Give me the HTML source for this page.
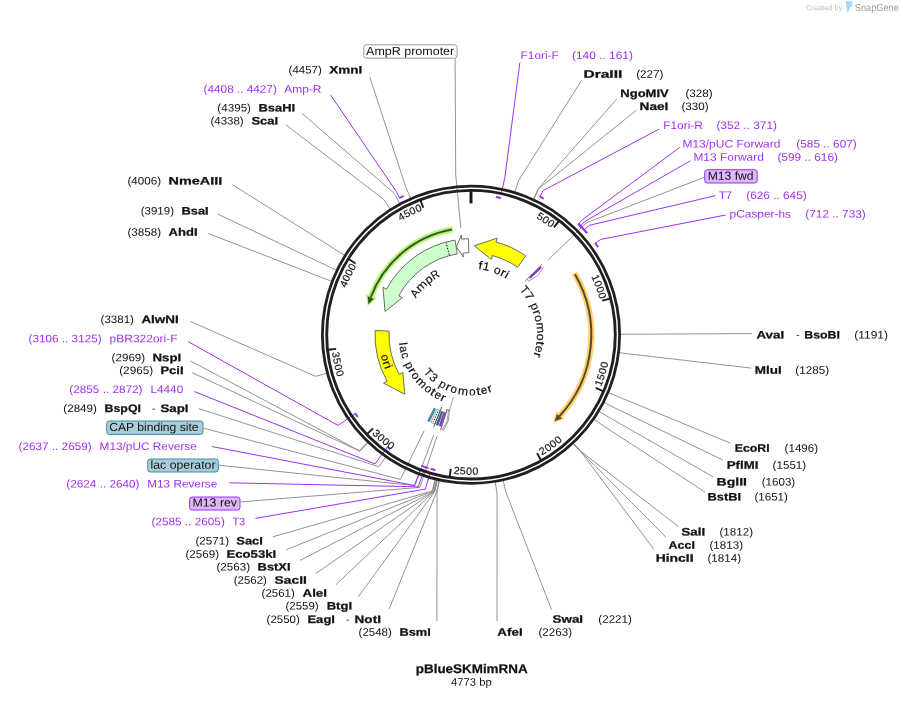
<!DOCTYPE html>
<html><head><meta charset="utf-8"><title>pBlueSKMimRNA</title>
<style>html,body{margin:0;padding:0;background:#fff}svg{display:block;will-change:transform}text{font-family:"Liberation Sans",sans-serif}</style>
</head><body>
<svg width="903" height="721" viewBox="0 0 903 721" font-family="'Liberation Sans', sans-serif">
<rect width="903" height="721" fill="#fff"/>
<g fill="none" stroke="#808080" stroke-width="0.85">
<path d="M581.4,80.5 L518.4,180.83 L514.86,192.3"/>
<path d="M616.9,98.8 L538.38,188.48 L533.35,199.37"/>
<path d="M636.2,110.4 L538.76,188.65 L533.71,199.54"/>
<path d="M751.8,333.6 L632,334.22 L620,334.26"/>
<path d="M751.2,368.1 L630.83,354.1 L618.91,352.65"/>
<path d="M730.4,443.1 L619.38,397.18 L608.32,392.52"/>
<path d="M722.8,460 L614.47,407.75 L603.78,402.31"/>
<path d="M713.5,477 L609.14,417.39 L598.84,411.23"/>
<path d="M704.9,492 L603.64,425.95 L593.76,419.15"/>
<path d="M678.3,526.5 L581.48,451.81 L573.25,443.08"/>
<path d="M666.3,537.5 L581.33,451.96 L573.1,443.22"/>
<path d="M654,549.4 L581.17,452.1 L572.96,443.35"/>
<path d="M551.5,609.5 L505.8,491.89 L503.21,480.18"/>
<path d="M497,621.2 L497.06,493.58 L495.12,481.74"/>
<path d="M436.9,621.2 L437.03,492.08 L439.56,480.35"/>
<path d="M389.2,608.9 L436.61,491.99 L439.18,480.26"/>
<path d="M358.3,596.9 L434.75,491.57 L437.46,479.87"/>
<path d="M336,584.6 L434.34,491.47 L437.07,479.79"/>
<path d="M315.4,573.7 L434.13,491.42 L436.88,479.74"/>
<path d="M300.1,560.4 L433.93,491.37 L436.69,479.7"/>
<path d="M286.2,549.7 L432.69,491.08 L435.55,479.42"/>
<path d="M272.9,536.8 L432.28,490.97 L435.17,479.33"/>
<path d="M198.8,408.6 L378.92,466.77 L385.78,456.93"/>
<path d="M192.1,372.6 L359.9,451.23 L368.18,442.54"/>
<path d="M190.5,360.9 L359.29,450.64 L367.62,442"/>
<path d="M190.5,321.5 L315.48,376.34 L327.07,373.24"/>
<path d="M208.5,233.6 L320.68,277.04 L331.88,281.34"/>
<path d="M217.5,214 L325.79,265.17 L336.61,270.35"/>
<path d="M232.4,184.7 L334.69,249.03 L344.85,255.41"/>
<path d="M286.1,125 L383.76,199.38 L390.26,209.47"/>
<path d="M302.2,113.5 L394.15,193.22 L399.88,203.77"/>
<path d="M369.8,77.2 L405.94,187.43 L410.79,198.41"/>
<path d="M704.2,177.4 L586.62,222.66 L547.84,260.24"/>
<path d="M240.5,501.9 L419.91,487.38 L437.05,436.17"/>
<path d="M218.8,465.2 L414.88,485.6 L433.7,434.99"/>
<path d="M203.5,428.2 L400.42,479.41 L424.09,430.87"/>
<path d="M455.1,58.3 L455.71,174.43 L460.84,228.18"/>
</g>
<g fill="none" stroke="#a030f0" stroke-width="1">
<path d="M519.9,62.6 L504.87,177.3 L501.29,193.92"/>
<path d="M659.3,129 L542.96,190.68 L539.97,196.67"/>
<path d="M679.7,147.5 L583.09,219.13 L578.42,223.94"/>
<path d="M690.4,160.8 L585.2,221.21 L580.45,225.94"/>
<path d="M715.3,195.7 L589.16,225.34 L584.24,229.89"/>
<path d="M725.6,215 L600.76,239.39 L595.36,243.36"/>
<path d="M255.4,518.4 L425.33,489.09 L430.15,472.78"/>
<path d="M229.4,482.8 L418.26,486.82 L423.83,470.76"/>
<path d="M211.8,446.5 L414.48,485.45 L420.45,469.53"/>
<path d="M194.5,391.6 L374.97,463.92 L387.49,447.07"/>
<path d="M188.1,341.6 L338,425.43 L355.35,413.59"/>
<path d="M330.5,94.9 L396.58,191.93 L399.68,197.87"/>
</g>
<circle cx="471" cy="334.7" r="148.6" fill="none" stroke="#202020" stroke-width="2.8"/>
<circle cx="471" cy="334.7" r="144.3" fill="none" stroke="#202020" stroke-width="2.9"/>
<g fill="none" stroke="#a030f0" stroke-width="1.9">
<path d="M496.07,196.96A140,140 0 0 1 501.04,197.96"/>
<path d="M539.43,196.4A154.3,154.3 0 0 1 543.93,198.72"/>
<path d="M577.99,223.52A154.3,154.3 0 0 1 582,227.52"/>
<path d="M580.02,225.51A154.3,154.3 0 0 1 583.27,228.85"/>
<path d="M583.83,229.45A154.3,154.3 0 0 1 587.22,233.21"/>
<path d="M595,242.87A154.3,154.3 0 0 1 598.18,247.32"/>
<path d="M435.41,470.1A140,140 0 0 1 430.71,468.78"/>
<path d="M428.51,468.1A140,140 0 0 1 424.58,466.78"/>
<path d="M426.23,467.35A140,140 0 0 1 421.29,465.58"/>
<path d="M390.52,449.25A140,140 0 0 1 387.01,446.71"/>
<path d="M357.71,416.95A140,140 0 0 1 355.01,413.1"/>
<path d="M399.15,198.15A154.3,154.3 0 0 1 403.66,195.87"/>
<path d="M578.42,223.94A154.3,154.3 0 0 1 586.83,232.76"/>
</g>
<path d="M558.78,221.18 L553.95,227.43" stroke="#1a1a1a" stroke-width="1.9"/>
<path d="M609.88,298.59 L602.24,300.57" stroke="#1a1a1a" stroke-width="1.9"/>
<path d="M602.96,391.08 L595.69,387.98" stroke="#1a1a1a" stroke-width="1.9"/>
<path d="M540.9,460.02 L537.05,453.12" stroke="#1a1a1a" stroke-width="1.9"/>
<path d="M449.64,476.6 L450.82,468.79" stroke="#1a1a1a" stroke-width="1.9"/>
<path d="M367.3,433.89 L373.01,428.43" stroke="#1a1a1a" stroke-width="1.9"/>
<path d="M328.29,349.74 L336.15,348.91" stroke="#1a1a1a" stroke-width="1.9"/>
<path d="M348.9,259.3 L355.63,263.45" stroke="#1a1a1a" stroke-width="1.9"/>
<path d="M420.53,200.37 L423.31,207.76" stroke="#1a1a1a" stroke-width="1.9"/>
<path d="M471,191.2 L471,203.4" stroke="#1a1a1a" stroke-width="3"/>
<path d="M452.79,229.26A107,107 0 0 0 370.68,297.49" fill="none" stroke="#b9f57f" stroke-width="6.2" stroke-linecap="butt"/>
<path d="M367.85,306.25 L376.62,298.18 L365.8,294 Z" fill="#b9f57f"/>
<path d="M451.8,229.44A107,107 0 0 0 370.68,297.49" fill="none" stroke="#3a5a24" stroke-width="2"/>
<path d="M368.46,304.13 L373.77,298.64 L367.58,296.35 Z" fill="#3a5a24"/>
<path d="M574.44,273.28A120.3,120.3 0 0 1 559.46,416.23" fill="none" stroke="#ffd070" stroke-width="6.2" stroke-linecap="butt"/>
<path d="M552.97,422.75 L556.15,411.24 L564.78,419 Z" fill="#ffd070"/>
<path d="M574.95,274.14A120.3,120.3 0 0 1 559.46,416.23" fill="none" stroke="#5a4826" stroke-width="2"/>
<path d="M554.57,421.24 L557.03,413.99 L561.89,418.47 Z" fill="#5a4826"/>
<path d="M517.68,267.28A82,82 0 0 0 492.36,255.53L491.32,259.39L474.26,245.76L497.05,238.15L496.01,242.01A96,96 0 0 1 525.65,255.77Z" fill="#ffff00" stroke="#5c5c5c" stroke-width="0.9" stroke-linejoin="miter"/>
<path d="M468.85,252.73A82,82 0 0 0 463,253.09L463.39,257.07L456.46,246.9L461.24,235.18L461.63,239.16A96,96 0 0 1 468.49,238.73Z" fill="#ffffff" stroke="#5c5c5c" stroke-width="0.9" stroke-linejoin="miter"/>
<path d="M457.32,253.85A82,82 0 0 0 398.8,295.82L402.32,297.72L385.07,311.52L382.95,287.29L386.47,289.19A96,96 0 0 1 454.99,240.04Z" fill="#ccffcc" stroke="#5c5c5c" stroke-width="0.9" stroke-linejoin="miter"/>
<path d="M449.37,255.09 L445.96,242.54" stroke="#111" stroke-width="1" stroke-dasharray="1.6,1.4" fill="none"/>
<path d="M389.08,331.12A82,82 0 0 0 399.28,374.45L402.78,372.52L404.86,394.25L383.54,383.18L387.04,381.24A96,96 0 0 1 375.09,330.51Z" fill="#ffff00" stroke="#5c5c5c" stroke-width="0.9" stroke-linejoin="miter"/>
<path d="M527.59,281.75 L537.66,275.73 L544.02,266.37" fill="#ffffff" stroke="#777" stroke-width="0.7" stroke-linejoin="round"/>
<path d="M525.42,280.94 L542.14,264.42" stroke="#2a2a2a" stroke-width="0.8" fill="none"/>
<path d="M529.54,277.28L540.24,266.77L541.42,267.99L530.53,278.31Z" fill="#9a2be8" stroke="#4b1a8a" stroke-width="0.5"/>
<path d="M435.76,408.74L429.53,421.84L427.57,420.87L434.09,407.92Z" fill="#2f95ad" stroke="#2a6f80" stroke-width="0.5"/>
<path d="M440.15,410.68L434.69,424.11L430.98,422.51L437,409.32Z" fill="#ffffff" stroke="#666" stroke-width="0.6"/>
<path d="M437.77,411.85 L433.42,421.95" stroke="#222" stroke-width="1.4" stroke-dasharray="1,1.6" fill="none"/>
<path d="M441.78,407.02 L433.54,427.42" stroke="#333" stroke-width="0.8" fill="none"/>
<path d="M442.99,411.77L438.03,425.39L436.06,424.65L441.31,411.14Z" fill="#2a7286" stroke="#1f4f5c" stroke-width="0.5"/>
<path d="M445.39,412.6L440.86,426.37L439.11,425.78L443.9,412.09Z" fill="#9a2be8" stroke="#5a1aa0" stroke-width="0.5"/>
<path d="M447.29,409.01 L440.6,429.97" stroke="#333" stroke-width="0.8" fill="none"/>
<path d="M448.47,408.85 L447.52,420.55 L441.93,430.38" fill="#ffffff" stroke="#777" stroke-width="0.7" stroke-linejoin="round"/>
<path d="M449.38,409.12 L448.42,420.79 L443.1,430.73" fill="none" stroke="#777" stroke-width="0.7" stroke-linejoin="round"/>
<path d="M453.44,396.76 L449.22,411.68" stroke="#808080" stroke-width="0.7" fill="none"/>
<text transform="translate(538.57,219.56) rotate(30.41) scale(1.04,1)" text-anchor="middle" font-size="10.3" fill="#111" stroke="#111" stroke-width="0.15">5</text>
<text transform="translate(543.81,222.81) rotate(33.05) scale(1.04,1)" text-anchor="middle" font-size="10.3" fill="#111" stroke="#111" stroke-width="0.15">0</text>
<text transform="translate(548.91,226.29) rotate(35.7) scale(1.04,1)" text-anchor="middle" font-size="10.3" fill="#111" stroke="#111" stroke-width="0.15">0</text>
<text transform="translate(592.45,279.28) rotate(65.47) scale(1.04,1)" text-anchor="middle" font-size="10.3" fill="#111" stroke="#111" stroke-width="0.15">1</text>
<text transform="translate(594.88,284.95) rotate(68.12) scale(1.04,1)" text-anchor="middle" font-size="10.3" fill="#111" stroke="#111" stroke-width="0.15">0</text>
<text transform="translate(597.05,290.72) rotate(70.77) scale(1.04,1)" text-anchor="middle" font-size="10.3" fill="#111" stroke="#111" stroke-width="0.15">0</text>
<text transform="translate(598.95,296.59) rotate(73.41) scale(1.04,1)" text-anchor="middle" font-size="10.3" fill="#111" stroke="#111" stroke-width="0.15">0</text>
<text transform="translate(602.05,384.19) rotate(290.69) scale(1.04,1)" text-anchor="middle" font-size="10.3" fill="#111" stroke="#111" stroke-width="0.15">1</text>
<text transform="translate(604.21,378.06) rotate(288.03) scale(1.04,1)" text-anchor="middle" font-size="10.3" fill="#111" stroke="#111" stroke-width="0.15">5</text>
<text transform="translate(606.07,371.84) rotate(285.37) scale(1.04,1)" text-anchor="middle" font-size="10.3" fill="#111" stroke="#111" stroke-width="0.15">0</text>
<text transform="translate(607.65,365.53) rotate(282.71) scale(1.04,1)" text-anchor="middle" font-size="10.3" fill="#111" stroke="#111" stroke-width="0.15">0</text>
<text transform="translate(544.4,454.01) rotate(328.4) scale(1.04,1)" text-anchor="middle" font-size="10.3" fill="#111" stroke="#111" stroke-width="0.15">2</text>
<text transform="translate(549.86,450.48) rotate(325.74) scale(1.04,1)" text-anchor="middle" font-size="10.3" fill="#111" stroke="#111" stroke-width="0.15">0</text>
<text transform="translate(555.14,446.7) rotate(323.08) scale(1.04,1)" text-anchor="middle" font-size="10.3" fill="#111" stroke="#111" stroke-width="0.15">0</text>
<text transform="translate(560.24,442.68) rotate(320.43) scale(1.04,1)" text-anchor="middle" font-size="10.3" fill="#111" stroke="#111" stroke-width="0.15">0</text>
<text transform="translate(456.09,473.99) rotate(366.11) scale(1.04,1)" text-anchor="middle" font-size="10.3" fill="#111" stroke="#111" stroke-width="0.15">2</text>
<text transform="translate(462.56,474.53) rotate(363.45) scale(1.04,1)" text-anchor="middle" font-size="10.3" fill="#111" stroke="#111" stroke-width="0.15">5</text>
<text transform="translate(469.05,474.77) rotate(360.8) scale(1.04,1)" text-anchor="middle" font-size="10.3" fill="#111" stroke="#111" stroke-width="0.15">0</text>
<text transform="translate(475.55,474.71) rotate(358.14) scale(1.04,1)" text-anchor="middle" font-size="10.3" fill="#111" stroke="#111" stroke-width="0.15">0</text>
<text transform="translate(374,435.77) rotate(403.82) scale(1.04,1)" text-anchor="middle" font-size="10.3" fill="#111" stroke="#111" stroke-width="0.15">3</text>
<text transform="translate(378.79,440.16) rotate(401.17) scale(1.04,1)" text-anchor="middle" font-size="10.3" fill="#111" stroke="#111" stroke-width="0.15">0</text>
<text transform="translate(383.78,444.32) rotate(398.51) scale(1.04,1)" text-anchor="middle" font-size="10.3" fill="#111" stroke="#111" stroke-width="0.15">0</text>
<text transform="translate(388.95,448.25) rotate(395.85) scale(1.04,1)" text-anchor="middle" font-size="10.3" fill="#111" stroke="#111" stroke-width="0.15">0</text>
<text transform="translate(332.44,355.32) rotate(441.54) scale(1.04,1)" text-anchor="middle" font-size="10.3" fill="#111" stroke="#111" stroke-width="0.15">3</text>
<text transform="translate(333.54,361.72) rotate(438.88) scale(1.04,1)" text-anchor="middle" font-size="10.3" fill="#111" stroke="#111" stroke-width="0.15">5</text>
<text transform="translate(334.95,368.07) rotate(436.22) scale(1.04,1)" text-anchor="middle" font-size="10.3" fill="#111" stroke="#111" stroke-width="0.15">0</text>
<text transform="translate(336.64,374.34) rotate(433.56) scale(1.04,1)" text-anchor="middle" font-size="10.3" fill="#111" stroke="#111" stroke-width="0.15">0</text>
<text transform="translate(347,285.24) rotate(291.74) scale(1.04,1)" text-anchor="middle" font-size="10.3" fill="#111" stroke="#111" stroke-width="0.15">4</text>
<text transform="translate(349.42,279.57) rotate(294.39) scale(1.04,1)" text-anchor="middle" font-size="10.3" fill="#111" stroke="#111" stroke-width="0.15">0</text>
<text transform="translate(352.09,274.01) rotate(297.04) scale(1.04,1)" text-anchor="middle" font-size="10.3" fill="#111" stroke="#111" stroke-width="0.15">0</text>
<text transform="translate(355.02,268.58) rotate(299.69) scale(1.04,1)" text-anchor="middle" font-size="10.3" fill="#111" stroke="#111" stroke-width="0.15">0</text>
<text transform="translate(403.15,219.73) rotate(329.46) scale(1.04,1)" text-anchor="middle" font-size="10.3" fill="#111" stroke="#111" stroke-width="0.15">4</text>
<text transform="translate(408.54,216.71) rotate(332.1) scale(1.04,1)" text-anchor="middle" font-size="10.3" fill="#111" stroke="#111" stroke-width="0.15">5</text>
<text transform="translate(414.06,213.95) rotate(334.75) scale(1.04,1)" text-anchor="middle" font-size="10.3" fill="#111" stroke="#111" stroke-width="0.15">0</text>
<text transform="translate(419.69,211.45) rotate(337.4) scale(1.04,1)" text-anchor="middle" font-size="10.3" fill="#111" stroke="#111" stroke-width="0.15">0</text>
<text transform="translate(479.94,269.31) rotate(7.79) scale(1.21,1)" text-anchor="middle" font-size="11.6" fill="#111" stroke="#111" stroke-width="0.15">f</text>
<text transform="translate(485.51,270.31) rotate(12.7) scale(1.09,1)" text-anchor="middle" font-size="11.6" fill="#111" stroke="#111" stroke-width="0.15">1</text>
<text transform="translate(496.12,273.67) rotate(22.38) scale(1.04,1)" text-anchor="middle" font-size="11.6" fill="#111" stroke="#111" stroke-width="0.15">o</text>
<text transform="translate(501.49,276.17) rotate(27.51) scale(1.23,1)" text-anchor="middle" font-size="11.6" fill="#111" stroke="#111" stroke-width="0.15">r</text>
<text transform="translate(504.99,278.13) rotate(31) scale(1.18,1)" text-anchor="middle" font-size="11.6" fill="#111" stroke="#111" stroke-width="0.15">i</text>
<text transform="translate(417.89,295.52) rotate(-53.59) scale(0.98,1)" text-anchor="middle" font-size="11.6" fill="#111" stroke="#111" stroke-width="0.15">A</text>
<text transform="translate(424.05,288.32) rotate(-45.35) scale(1.12,1)" text-anchor="middle" font-size="11.6" fill="#111" stroke="#111" stroke-width="0.15">m</text>
<text transform="translate(430.9,282.28) rotate(-37.42) scale(1.07,1)" text-anchor="middle" font-size="11.6" fill="#111" stroke="#111" stroke-width="0.15">p</text>
<text transform="translate(437.14,278.05) rotate(-30.87) scale(0.92,1)" text-anchor="middle" font-size="11.6" fill="#111" stroke="#111" stroke-width="0.15">R</text>
<text transform="translate(521.6,292.33) rotate(50.06) scale(0.97,1)" text-anchor="middle" font-size="11.6" fill="#111" stroke="#111" stroke-width="0.15">T</text>
<text transform="translate(525.9,298.06) rotate(56.28) scale(1.09,1)" text-anchor="middle" font-size="11.6" fill="#111" stroke="#111" stroke-width="0.15">7</text>
<text transform="translate(531.31,307.9) rotate(66.04) scale(1.07,1)" text-anchor="middle" font-size="11.6" fill="#111" stroke="#111" stroke-width="0.15">p</text>
<text transform="translate(533.5,313.49) rotate(71.26) scale(1.23,1)" text-anchor="middle" font-size="11.6" fill="#111" stroke="#111" stroke-width="0.15">r</text>
<text transform="translate(535.15,319.18) rotate(76.4) scale(1.04,1)" text-anchor="middle" font-size="11.6" fill="#111" stroke="#111" stroke-width="0.15">o</text>
<text transform="translate(536.67,328.09) rotate(84.25) scale(1.12,1)" text-anchor="middle" font-size="11.6" fill="#111" stroke="#111" stroke-width="0.15">m</text>
<text transform="translate(536.96,337.12) rotate(92.1) scale(1.04,1)" text-anchor="middle" font-size="11.6" fill="#111" stroke="#111" stroke-width="0.15">o</text>
<text transform="translate(536.5,342.83) rotate(97.08) scale(1.36,1)" text-anchor="middle" font-size="11.6" fill="#111" stroke="#111" stroke-width="0.15">t</text>
<text transform="translate(535.56,348.42) rotate(102) scale(1.03,1)" text-anchor="middle" font-size="11.6" fill="#111" stroke="#111" stroke-width="0.15">e</text>
<text transform="translate(534.09,354.09) rotate(107.08) scale(1.23,1)" text-anchor="middle" font-size="11.6" fill="#111" stroke="#111" stroke-width="0.15">r</text>
<text transform="translate(399.18,344.44) rotate(442.27) scale(1.12,1)" text-anchor="middle" font-size="11.6" fill="#111" stroke="#111" stroke-width="0.15">l</text>
<text transform="translate(400.09,349.72) rotate(438.04) scale(0.98,1)" text-anchor="middle" font-size="11.6" fill="#111" stroke="#111" stroke-width="0.15">a</text>
<text transform="translate(401.83,356.37) rotate(432.61) scale(0.95,1)" text-anchor="middle" font-size="11.6" fill="#111" stroke="#111" stroke-width="0.15">c</text>
<text transform="translate(406.05,366.86) rotate(423.66) scale(1.02,1)" text-anchor="middle" font-size="11.6" fill="#111" stroke="#111" stroke-width="0.15">p</text>
<text transform="translate(409.15,372.49) rotate(418.58) scale(1.17,1)" text-anchor="middle" font-size="11.6" fill="#111" stroke="#111" stroke-width="0.15">r</text>
<text transform="translate(412.68,377.74) rotate(413.57) scale(0.99,1)" text-anchor="middle" font-size="11.6" fill="#111" stroke="#111" stroke-width="0.15">o</text>
<text transform="translate(418.93,385.12) rotate(405.92) scale(1.06,1)" text-anchor="middle" font-size="11.6" fill="#111" stroke="#111" stroke-width="0.15">m</text>
<text transform="translate(426.11,391.6) rotate(398.27) scale(0.99,1)" text-anchor="middle" font-size="11.6" fill="#111" stroke="#111" stroke-width="0.15">o</text>
<text transform="translate(431.07,395.19) rotate(393.43) scale(1.29,1)" text-anchor="middle" font-size="11.6" fill="#111" stroke="#111" stroke-width="0.15">t</text>
<text transform="translate(436.27,398.32) rotate(388.63) scale(0.98,1)" text-anchor="middle" font-size="11.6" fill="#111" stroke="#111" stroke-width="0.15">e</text>
<text transform="translate(441.89,401.08) rotate(383.68) scale(1.17,1)" text-anchor="middle" font-size="11.6" fill="#111" stroke="#111" stroke-width="0.15">r</text>
<text transform="translate(425.37,374.85) rotate(408.66) scale(0.92,1)" text-anchor="middle" font-size="11.6" fill="#111" stroke="#111" stroke-width="0.15">T</text>
<text transform="translate(430.92,380.4) rotate(401.25) scale(1.04,1)" text-anchor="middle" font-size="11.6" fill="#111" stroke="#111" stroke-width="0.15">3</text>
<text transform="translate(440.94,387.53) rotate(389.64) scale(1.02,1)" text-anchor="middle" font-size="11.6" fill="#111" stroke="#111" stroke-width="0.15">p</text>
<text transform="translate(446.83,390.47) rotate(383.43) scale(1.17,1)" text-anchor="middle" font-size="11.6" fill="#111" stroke="#111" stroke-width="0.15">r</text>
<text transform="translate(452.91,392.73) rotate(377.32) scale(0.99,1)" text-anchor="middle" font-size="11.6" fill="#111" stroke="#111" stroke-width="0.15">o</text>
<text transform="translate(462.57,394.89) rotate(367.97) scale(1.06,1)" text-anchor="middle" font-size="11.6" fill="#111" stroke="#111" stroke-width="0.15">m</text>
<text transform="translate(472.45,395.46) rotate(358.63) scale(0.99,1)" text-anchor="middle" font-size="11.6" fill="#111" stroke="#111" stroke-width="0.15">o</text>
<text transform="translate(478.71,394.99) rotate(352.71) scale(1.29,1)" text-anchor="middle" font-size="11.6" fill="#111" stroke="#111" stroke-width="0.15">t</text>
<text transform="translate(484.82,393.89) rotate(346.86) scale(0.98,1)" text-anchor="middle" font-size="11.6" fill="#111" stroke="#111" stroke-width="0.15">e</text>
<text transform="translate(490.98,392.1) rotate(340.81) scale(1.17,1)" text-anchor="middle" font-size="11.6" fill="#111" stroke="#111" stroke-width="0.15">r</text>
<text transform="translate(381.54,358.53) rotate(435.09) scale(0.99,1)" text-anchor="middle" font-size="11.6" fill="#111" stroke="#111" stroke-width="0.15">o</text>
<text transform="translate(383.32,364.43) rotate(431.27) scale(1.17,1)" text-anchor="middle" font-size="11.6" fill="#111" stroke="#111" stroke-width="0.15">r</text>
<text transform="translate(384.75,368.35) rotate(428.68) scale(1.12,1)" text-anchor="middle" font-size="11.6" fill="#111" stroke="#111" stroke-width="0.15">i</text>
<text transform="translate(520.6,58.9) rotate(0.03)" font-size="10.9" fill="#a030f0" textLength="38.2" lengthAdjust="spacingAndGlyphs">F1ori-F</text>
<text transform="translate(572,58.9) rotate(0.03)" font-size="10.9" fill="#a030f0" textLength="60.9" lengthAdjust="spacingAndGlyphs">(140 .. 161)</text>
<text transform="translate(583.4,77.8) rotate(0.03)" font-size="10.9" font-weight="bold" stroke="#111" stroke-width="0.25" fill="#111" textLength="38.9" lengthAdjust="spacingAndGlyphs">DraIII</text>
<text transform="translate(636.2,77.8) rotate(0.03)" font-size="10.9" fill="#111" textLength="27.3" lengthAdjust="spacingAndGlyphs">(227)</text>
<text transform="translate(620.3,97.1) rotate(0.03)" font-size="10.9" font-weight="bold" stroke="#111" stroke-width="0.25" fill="#111" textLength="48.5" lengthAdjust="spacingAndGlyphs">NgoMIV</text>
<text transform="translate(685.4,97.1) rotate(0.03)" font-size="10.9" fill="#111" textLength="27.2" lengthAdjust="spacingAndGlyphs">(328)</text>
<text transform="translate(639.5,110.1) rotate(0.03)" font-size="10.9" font-weight="bold" stroke="#111" stroke-width="0.25" fill="#111" textLength="28.9" lengthAdjust="spacingAndGlyphs">NaeI</text>
<text transform="translate(681.4,110.1) rotate(0.03)" font-size="10.9" fill="#111" textLength="27.2" lengthAdjust="spacingAndGlyphs">(330)</text>
<text transform="translate(663.3,129) rotate(0.03)" font-size="10.9" fill="#a030f0" textLength="39.5" lengthAdjust="spacingAndGlyphs">F1ori-R</text>
<text transform="translate(716.4,129) rotate(0.03)" font-size="10.9" fill="#a030f0" textLength="60.5" lengthAdjust="spacingAndGlyphs">(352 .. 371)</text>
<text transform="translate(682.4,147.5) rotate(0.03)" font-size="10.9" fill="#a030f0" textLength="98" lengthAdjust="spacingAndGlyphs">M13/pUC Forward</text>
<text transform="translate(796.3,147.5) rotate(0.03)" font-size="10.9" fill="#a030f0" textLength="60.5" lengthAdjust="spacingAndGlyphs">(585 .. 607)</text>
<text transform="translate(693.4,160.8) rotate(0.03)" font-size="10.9" fill="#a030f0" textLength="70.4" lengthAdjust="spacingAndGlyphs">M13 Forward</text>
<text transform="translate(777.4,160.8) rotate(0.03)" font-size="10.9" fill="#a030f0" textLength="60.5" lengthAdjust="spacingAndGlyphs">(599 .. 616)</text>
<text transform="translate(718.9,199) rotate(0.03)" font-size="10.9" fill="#a030f0" textLength="13.3" lengthAdjust="spacingAndGlyphs">T7</text>
<text transform="translate(746.2,199) rotate(0.03)" font-size="10.9" fill="#a030f0" textLength="60.5" lengthAdjust="spacingAndGlyphs">(626 .. 645)</text>
<text transform="translate(729.6,217.6) rotate(0.03)" font-size="10.9" fill="#a030f0" textLength="61.4" lengthAdjust="spacingAndGlyphs">pCasper-hs</text>
<text transform="translate(805.3,217.6) rotate(0.03)" font-size="10.9" fill="#a030f0" textLength="60.5" lengthAdjust="spacingAndGlyphs">(712 .. 733)</text>
<text transform="translate(756.5,338.6) rotate(0.03)" font-size="10.9" font-weight="bold" stroke="#111" stroke-width="0.25" fill="#111" textLength="27.6" lengthAdjust="spacingAndGlyphs">AvaI</text>
<text transform="translate(854.2,338.6) rotate(0.03)" font-size="10.9" fill="#111" textLength="33.8" lengthAdjust="spacingAndGlyphs">(1191)</text>
<text transform="translate(796,338.6) rotate(0.03)" font-size="10.9" fill="#111" textLength="3.7" lengthAdjust="spacingAndGlyphs">-</text>
<text transform="translate(804.3,338.6) rotate(0.03)" font-size="10.9" font-weight="bold" stroke="#111" stroke-width="0.25" fill="#111" textLength="35.6" lengthAdjust="spacingAndGlyphs">BsoBI</text>
<text transform="translate(754.8,373.8) rotate(0.03)" font-size="10.9" font-weight="bold" stroke="#111" stroke-width="0.25" fill="#111" textLength="26.9" lengthAdjust="spacingAndGlyphs">MluI</text>
<text transform="translate(795.3,373.8) rotate(0.03)" font-size="10.9" fill="#111" textLength="33.9" lengthAdjust="spacingAndGlyphs">(1285)</text>
<text transform="translate(734.8,451.8) rotate(0.03)" font-size="10.9" font-weight="bold" stroke="#111" stroke-width="0.25" fill="#111" textLength="34.8" lengthAdjust="spacingAndGlyphs">EcoRI</text>
<text transform="translate(784.6,451.8) rotate(0.03)" font-size="10.9" fill="#111" textLength="33.5" lengthAdjust="spacingAndGlyphs">(1496)</text>
<text transform="translate(726.8,468.7) rotate(0.03)" font-size="10.9" font-weight="bold" stroke="#111" stroke-width="0.25" fill="#111" textLength="31.5" lengthAdjust="spacingAndGlyphs">PflMI</text>
<text transform="translate(772.6,468.7) rotate(0.03)" font-size="10.9" fill="#111" textLength="33.6" lengthAdjust="spacingAndGlyphs">(1551)</text>
<text transform="translate(716.5,485.6) rotate(0.03)" font-size="10.9" font-weight="bold" stroke="#111" stroke-width="0.25" fill="#111" textLength="30.5" lengthAdjust="spacingAndGlyphs">BglII</text>
<text transform="translate(761.7,485.6) rotate(0.03)" font-size="10.9" fill="#111" textLength="33.5" lengthAdjust="spacingAndGlyphs">(1603)</text>
<text transform="translate(707.5,500.6) rotate(0.03)" font-size="10.9" font-weight="bold" stroke="#111" stroke-width="0.25" fill="#111" textLength="33.5" lengthAdjust="spacingAndGlyphs">BstBI</text>
<text transform="translate(754.4,500.6) rotate(0.03)" font-size="10.9" fill="#111" textLength="33.5" lengthAdjust="spacingAndGlyphs">(1651)</text>
<text transform="translate(681.3,535.5) rotate(0.03)" font-size="10.9" font-weight="bold" stroke="#111" stroke-width="0.25" fill="#111" textLength="23.9" lengthAdjust="spacingAndGlyphs">SalI</text>
<text transform="translate(719.5,535.5) rotate(0.03)" font-size="10.9" fill="#111" textLength="33.5" lengthAdjust="spacingAndGlyphs">(1812)</text>
<text transform="translate(668.6,548.8) rotate(0.03)" font-size="10.9" font-weight="bold" stroke="#111" stroke-width="0.25" fill="#111" textLength="26.3" lengthAdjust="spacingAndGlyphs">AccI</text>
<text transform="translate(709.5,548.8) rotate(0.03)" font-size="10.9" fill="#111" textLength="33.5" lengthAdjust="spacingAndGlyphs">(1813)</text>
<text transform="translate(655.7,561.7) rotate(0.03)" font-size="10.9" font-weight="bold" stroke="#111" stroke-width="0.25" fill="#111" textLength="37.9" lengthAdjust="spacingAndGlyphs">HincII</text>
<text transform="translate(707.5,561.7) rotate(0.03)" font-size="10.9" fill="#111" textLength="33.5" lengthAdjust="spacingAndGlyphs">(1814)</text>
<text transform="translate(552.5,622.8) rotate(0.03)" font-size="10.9" font-weight="bold" stroke="#111" stroke-width="0.25" fill="#111" textLength="30.6" lengthAdjust="spacingAndGlyphs">SwaI</text>
<text transform="translate(598.3,622.8) rotate(0.03)" font-size="10.9" fill="#111" textLength="33.6" lengthAdjust="spacingAndGlyphs">(2221)</text>
<text transform="translate(497.3,635.8) rotate(0.03)" font-size="10.9" font-weight="bold" stroke="#111" stroke-width="0.25" fill="#111" textLength="25.3" lengthAdjust="spacingAndGlyphs">AfeI</text>
<text transform="translate(538.5,635.8) rotate(0.03)" font-size="10.9" fill="#111" textLength="33.6" lengthAdjust="spacingAndGlyphs">(2263)</text>
<text transform="translate(399.5,635.7) rotate(0.03)" font-size="10.9" font-weight="bold" stroke="#111" stroke-width="0.25" fill="#111" textLength="31.3" lengthAdjust="spacingAndGlyphs">BsmI</text>
<text transform="translate(358.6,635.7) rotate(0.03)" font-size="10.9" fill="#111" textLength="33.2" lengthAdjust="spacingAndGlyphs">(2548)</text>
<text transform="translate(307.4,622.9) rotate(0.03)" font-size="10.9" font-weight="bold" stroke="#111" stroke-width="0.25" fill="#111" textLength="27.6" lengthAdjust="spacingAndGlyphs">EagI</text>
<text transform="translate(266.6,622.9) rotate(0.03)" font-size="10.9" fill="#111" textLength="33.2" lengthAdjust="spacingAndGlyphs">(2550)</text>
<text transform="translate(346,622.9) rotate(0.03)" font-size="10.9" fill="#111" textLength="3.6" lengthAdjust="spacingAndGlyphs">-</text>
<text transform="translate(354.6,622.9) rotate(0.03)" font-size="10.9" font-weight="bold" stroke="#111" stroke-width="0.25" fill="#111" textLength="26.3" lengthAdjust="spacingAndGlyphs">NotI</text>
<text transform="translate(326.7,609.5) rotate(0.03)" font-size="10.9" font-weight="bold" stroke="#111" stroke-width="0.25" fill="#111" textLength="25.3" lengthAdjust="spacingAndGlyphs">BtgI</text>
<text transform="translate(285.5,609.5) rotate(0.03)" font-size="10.9" fill="#111" textLength="33.2" lengthAdjust="spacingAndGlyphs">(2559)</text>
<text transform="translate(302.5,596.8) rotate(0.03)" font-size="10.9" font-weight="bold" stroke="#111" stroke-width="0.25" fill="#111" textLength="24.5" lengthAdjust="spacingAndGlyphs">AleI</text>
<text transform="translate(261.6,596.8) rotate(0.03)" font-size="10.9" fill="#111" textLength="33.2" lengthAdjust="spacingAndGlyphs">(2561)</text>
<text transform="translate(274.6,583.8) rotate(0.03)" font-size="10.9" font-weight="bold" stroke="#111" stroke-width="0.25" fill="#111" textLength="32.2" lengthAdjust="spacingAndGlyphs">SacII</text>
<text transform="translate(233.7,583.8) rotate(0.03)" font-size="10.9" fill="#111" textLength="33.2" lengthAdjust="spacingAndGlyphs">(2562)</text>
<text transform="translate(257.6,570.5) rotate(0.03)" font-size="10.9" font-weight="bold" stroke="#111" stroke-width="0.25" fill="#111" textLength="32.9" lengthAdjust="spacingAndGlyphs">BstXI</text>
<text transform="translate(216.4,570.5) rotate(0.03)" font-size="10.9" fill="#111" textLength="33.6" lengthAdjust="spacingAndGlyphs">(2563)</text>
<text transform="translate(226.4,557.8) rotate(0.03)" font-size="10.9" font-weight="bold" stroke="#111" stroke-width="0.25" fill="#111" textLength="49.8" lengthAdjust="spacingAndGlyphs">Eco53kI</text>
<text transform="translate(185.5,557.8) rotate(0.03)" font-size="10.9" fill="#111" textLength="33.6" lengthAdjust="spacingAndGlyphs">(2569)</text>
<text transform="translate(236.3,544.5) rotate(0.03)" font-size="10.9" font-weight="bold" stroke="#111" stroke-width="0.25" fill="#111" textLength="26.6" lengthAdjust="spacingAndGlyphs">SacI</text>
<text transform="translate(195.5,544.5) rotate(0.03)" font-size="10.9" fill="#111" textLength="33.5" lengthAdjust="spacingAndGlyphs">(2571)</text>
<text transform="translate(232.4,525.2) rotate(0.03)" font-size="10.9" fill="#a030f0" textLength="12.8" lengthAdjust="spacingAndGlyphs">T3</text>
<text transform="translate(151.5,525.2) rotate(0.03)" font-size="10.9" fill="#a030f0" textLength="73.3" lengthAdjust="spacingAndGlyphs">(2585 .. 2605)</text>
<text transform="translate(147.2,487.4) rotate(0.03)" font-size="10.9" fill="#a030f0" textLength="70.1" lengthAdjust="spacingAndGlyphs">M13 Reverse</text>
<text transform="translate(66.3,487.4) rotate(0.03)" font-size="10.9" fill="#a030f0" textLength="73.2" lengthAdjust="spacingAndGlyphs">(2624 .. 2640)</text>
<text transform="translate(99.6,449.9) rotate(0.03)" font-size="10.9" fill="#a030f0" textLength="97.2" lengthAdjust="spacingAndGlyphs">M13/pUC Reverse</text>
<text transform="translate(18.6,449.9) rotate(0.03)" font-size="10.9" fill="#a030f0" textLength="73" lengthAdjust="spacingAndGlyphs">(2637 .. 2659)</text>
<text transform="translate(104.6,411.9) rotate(0.03)" font-size="10.9" font-weight="bold" stroke="#111" stroke-width="0.25" fill="#111" textLength="36.3" lengthAdjust="spacingAndGlyphs">BspQI</text>
<text transform="translate(63.3,411.9) rotate(0.03)" font-size="10.9" fill="#111" textLength="33.6" lengthAdjust="spacingAndGlyphs">(2849)</text>
<text transform="translate(151.8,411.9) rotate(0.03)" font-size="10.9" fill="#111" textLength="3.7" lengthAdjust="spacingAndGlyphs">-</text>
<text transform="translate(160.5,411.9) rotate(0.03)" font-size="10.9" font-weight="bold" stroke="#111" stroke-width="0.25" fill="#111" textLength="28" lengthAdjust="spacingAndGlyphs">SapI</text>
<text transform="translate(150.5,392.9) rotate(0.03)" font-size="10.9" fill="#a030f0" textLength="32.7" lengthAdjust="spacingAndGlyphs">L4440</text>
<text transform="translate(69.3,392.9) rotate(0.03)" font-size="10.9" fill="#a030f0" textLength="73.2" lengthAdjust="spacingAndGlyphs">(2855 .. 2872)</text>
<text transform="translate(160.5,373.9) rotate(0.03)" font-size="10.9" font-weight="bold" stroke="#111" stroke-width="0.25" fill="#111" textLength="23" lengthAdjust="spacingAndGlyphs">PciI</text>
<text transform="translate(119.2,373.9) rotate(0.03)" font-size="10.9" fill="#111" textLength="34" lengthAdjust="spacingAndGlyphs">(2965)</text>
<text transform="translate(152.5,361.3) rotate(0.03)" font-size="10.9" font-weight="bold" stroke="#111" stroke-width="0.25" fill="#111" textLength="28.7" lengthAdjust="spacingAndGlyphs">NspI</text>
<text transform="translate(111.6,361.3) rotate(0.03)" font-size="10.9" fill="#111" textLength="33.6" lengthAdjust="spacingAndGlyphs">(2969)</text>
<text transform="translate(109.6,342.3) rotate(0.03)" font-size="10.9" fill="#a030f0" textLength="67.9" lengthAdjust="spacingAndGlyphs">pBR322ori-F</text>
<text transform="translate(28.6,342.3) rotate(0.03)" font-size="10.9" fill="#a030f0" textLength="73" lengthAdjust="spacingAndGlyphs">(3106 .. 3125)</text>
<text transform="translate(141.4,323) rotate(0.03)" font-size="10.9" font-weight="bold" stroke="#111" stroke-width="0.25" fill="#111" textLength="37.4" lengthAdjust="spacingAndGlyphs">AlwNI</text>
<text transform="translate(100.6,323) rotate(0.03)" font-size="10.9" fill="#111" textLength="33.3" lengthAdjust="spacingAndGlyphs">(3381)</text>
<text transform="translate(168.6,235.7) rotate(0.03)" font-size="10.9" font-weight="bold" stroke="#111" stroke-width="0.25" fill="#111" textLength="28.9" lengthAdjust="spacingAndGlyphs">AhdI</text>
<text transform="translate(127.4,235.7) rotate(0.03)" font-size="10.9" fill="#111" textLength="33.7" lengthAdjust="spacingAndGlyphs">(3858)</text>
<text transform="translate(181.5,214.5) rotate(0.03)" font-size="10.9" font-weight="bold" stroke="#111" stroke-width="0.25" fill="#111" textLength="27.2" lengthAdjust="spacingAndGlyphs">BsaI</text>
<text transform="translate(140.7,214.5) rotate(0.03)" font-size="10.9" fill="#111" textLength="33.3" lengthAdjust="spacingAndGlyphs">(3919)</text>
<text transform="translate(168.6,184.6) rotate(0.03)" font-size="10.9" font-weight="bold" stroke="#111" stroke-width="0.25" fill="#111" textLength="53.6" lengthAdjust="spacingAndGlyphs">NmeAIII</text>
<text transform="translate(127.4,184.6) rotate(0.03)" font-size="10.9" fill="#111" textLength="33.7" lengthAdjust="spacingAndGlyphs">(4006)</text>
<text transform="translate(251.4,124.4) rotate(0.03)" font-size="10.9" font-weight="bold" stroke="#111" stroke-width="0.25" fill="#111" textLength="26.7" lengthAdjust="spacingAndGlyphs">ScaI</text>
<text transform="translate(210.5,124.4) rotate(0.03)" font-size="10.9" fill="#111" textLength="33.2" lengthAdjust="spacingAndGlyphs">(4338)</text>
<text transform="translate(258.5,111.6) rotate(0.03)" font-size="10.9" font-weight="bold" stroke="#111" stroke-width="0.25" fill="#111" textLength="36.6" lengthAdjust="spacingAndGlyphs">BsaHI</text>
<text transform="translate(217.3,111.6) rotate(0.03)" font-size="10.9" fill="#111" textLength="33.7" lengthAdjust="spacingAndGlyphs">(4395)</text>
<text transform="translate(284.3,92.7) rotate(0.03)" font-size="10.9" fill="#a030f0" textLength="37.2" lengthAdjust="spacingAndGlyphs">Amp-R</text>
<text transform="translate(203.6,92.7) rotate(0.03)" font-size="10.9" fill="#a030f0" textLength="73.2" lengthAdjust="spacingAndGlyphs">(4408 .. 4427)</text>
<text transform="translate(329.2,73.6) rotate(0.03)" font-size="10.9" font-weight="bold" stroke="#111" stroke-width="0.25" fill="#111" textLength="33" lengthAdjust="spacingAndGlyphs">XmnI</text>
<text transform="translate(288.6,73.6) rotate(0.03)" font-size="10.9" fill="#111" textLength="33.2" lengthAdjust="spacingAndGlyphs">(4457)</text>
<rect x="704.7" y="169.7" width="52.5" height="13.3" rx="2.6" ry="2.6" fill="#dcb8f8" stroke="#9b30f0" stroke-width="1"/>
<text transform="translate(707.7,179.8) rotate(0.03)" font-size="11.8" fill="#111" textLength="45.8" lengthAdjust="spacingAndGlyphs">M13 fwd</text>
<rect x="189.6" y="497" width="50.4" height="13" rx="2.6" ry="2.6" fill="#dcb8f8" stroke="#9b30f0" stroke-width="1"/>
<text transform="translate(192.5,506.6) rotate(0.03)" font-size="11.8" fill="#111" textLength="44.5" lengthAdjust="spacingAndGlyphs">M13 rev</text>
<rect x="147.7" y="459" width="70.6" height="13" rx="2.6" ry="2.6" fill="#a9cdd6" stroke="#3a8ea5" stroke-width="1"/>
<text transform="translate(150.5,468.8) rotate(0.03)" font-size="11.8" fill="#111" textLength="65" lengthAdjust="spacingAndGlyphs">lac operator</text>
<rect x="106.7" y="421" width="96.3" height="13.4" rx="2.6" ry="2.6" fill="#a9cdd6" stroke="#3a8ea5" stroke-width="1"/>
<text transform="translate(109.2,430.9) rotate(0.03)" font-size="11.8" fill="#111" textLength="89.3" lengthAdjust="spacingAndGlyphs">CAP binding site</text>
<rect x="363.8" y="44.8" width="93.3" height="13.4" rx="2.6" ry="2.6" fill="#ffffff" stroke="#999999" stroke-width="1"/>
<text transform="translate(366.1,55) rotate(0.03)" font-size="11.8" fill="#111" textLength="88.1" lengthAdjust="spacingAndGlyphs">AmpR promoter</text>
<text transform="translate(415.8,673) rotate(0.03)" font-size="12.5" font-weight="bold" stroke="#111" stroke-width="0.25" fill="#111" textLength="111.8" lengthAdjust="spacingAndGlyphs">pBlueSKMimRNA</text>
<text transform="translate(451,685.7) rotate(0.03)" font-size="10.9" fill="#111" textLength="40.7" lengthAdjust="spacingAndGlyphs">4773 bp</text>
<text transform="translate(805.9,10.2) rotate(0.03)" font-size="7.5" fill="#bdbdbd" textLength="36.6" lengthAdjust="spacingAndGlyphs">Created by</text>
<path d="M845.6,1.3 L852.1,1.3 L852.2,6.6 L850.2,7 L848.3,12.3 Q847.7,12.9 847.2,12.2 Z" fill="#a3daf7"/>
<text transform="translate(854.8,10.6) rotate(0.03)" font-size="10.1" fill="#9a9ea3" textLength="44" lengthAdjust="spacingAndGlyphs">SnapGene</text>
</svg>
</body></html>
